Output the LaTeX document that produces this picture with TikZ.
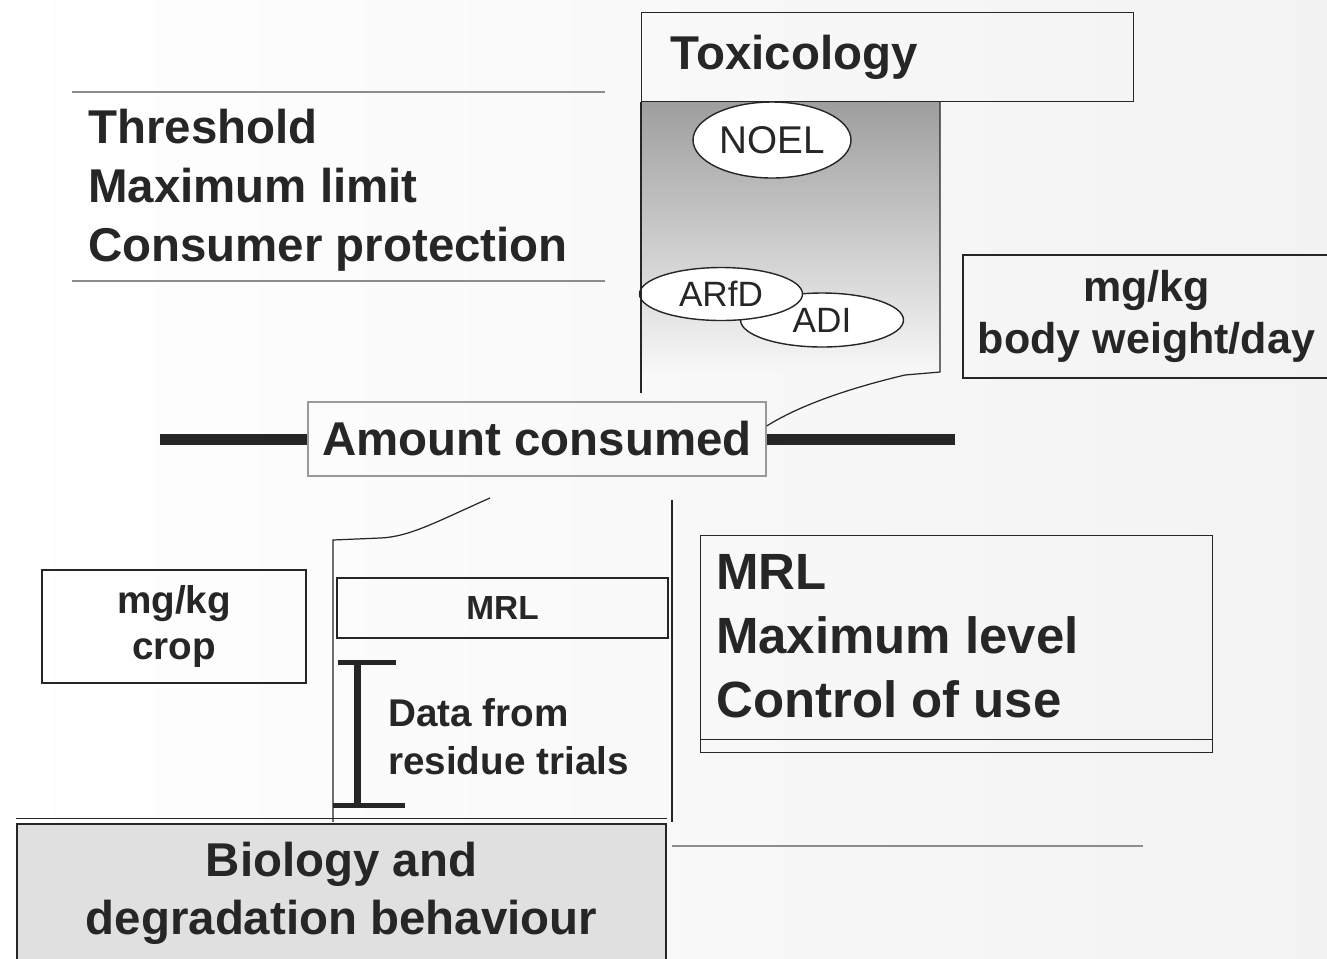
\documentclass[tikz,border=0pt]{standalone}
\usepackage{fontspec}
\setmainfont{Liberation Sans}
\usetikzlibrary{shapes.geometric,calc}
\tikzset{
    box/.style={draw=black!85,line width=0.8pt,rectangle,inner sep=0pt},
    oval/.style={draw=black!85,line width=0.8pt,ellipse,inner sep=0pt,fill=white,text=black!85},
    heading/.style={font=\fontsize{27}{33.5}\selectfont\bfseries,text=black!85},
    unit/.style={font=\fontsize{24.5}{30}\selectfont\bfseries,text=black!85,align=center},
    bar/.style={line width=0.22cm,draw=black!85},
    edge line/.style={draw=black!85,line width=0.7pt},
    rule/.style={draw=black!45,line width=0.6pt}
}

\begin{document}
\begin{tikzpicture}[x=0.02cm,y=-0.02cm]
    \useasboundingbox (0,0) rectangle (1327,958);
    \shade[left color=white,right color=black!5] (0,0) rectangle (1327,958);

    % top left block
    \draw[rule] (72,92) -- (605,92);
    \draw[rule] (72,281) -- (605,281);
    \node[heading,align=left,anchor=west] (limits) at (82,190) {Threshold\\Maximum limit\\Consumer protection};

    % toxicology column
    \shade[top color=black!38,bottom color=black!3] (641,101) rectangle (940,372);
    \node[box,heading,anchor=north west,minimum width=9.84cm,minimum height=1.78cm,text width=8.68cm,inner xsep=0.58cm,align=left] (tox) at (641,12) {\raisebox{-0.1cm}{Toxicology}};
    \node[oval,minimum width=3.26cm,minimum height=1.08cm,font=\fontsize{20}{24}\selectfont] (adi) at (822,320) {ADI};
    \node[oval,minimum width=3.26cm,minimum height=1.06cm,font=\fontsize{20}{24}\selectfont] (arfd) at (721,294) {ARfD};
    \node[oval,minimum width=3.16cm,minimum height=1.52cm,font=\fontsize{22}{26}\selectfont] (noel) at (772,140) {NOEL};
    \node[box,unit,minimum width=7.34cm,minimum height=2.46cm] (bw) at (1146.5,316.5) {\raisebox{-0.08cm}{mg/kg}\\\raisebox{-0.08cm}{body weight/day}};

    % amount consumed
    \node[box,draw=black!40,heading,minimum width=9.16cm,minimum height=1.48cm] (amt) at (537,439) {Amount consumed};
    \coordinate (barL) at (160,439);
    \coordinate (barR) at (955,439);
    \draw[bar] (barL) -- (amt.west);
    \draw[bar] (amt.east) -- (barR);
    \draw[edge line] (tox.south west) -- ++(0,291);
    \draw[edge line] (940,101) -- (940,372) -- (905,375) .. controls (850,388) and (800,405) .. ([yshift=0.26cm]amt.east);

    % residue column
    \draw[edge line] (672,500) -- (672,822);
    \draw[edge line] (490,498) .. controls (440,520) and (410,537) .. (380,538) -- (333,540) -- (333,822);
    \node[box,font=\fontsize{19}{22}\selectfont\bfseries,text=black!85,minimum width=6.62cm,minimum height=1.2cm] (mrl) at (502.5,608) {MRL};
    \node[box,font=\fontsize{22}{26.6}\selectfont\bfseries,text=black!85,align=center,minimum width=5.28cm,minimum height=2.26cm] (crop) at (174,626.5) {mg/kg\\crop};
    \draw[line width=0.14cm,black!85] (357,662) -- (357,805);
    \draw[line width=0.1cm,black!85] (338,662) -- (396,662);
    \draw[line width=0.1cm,black!85] (333,805) -- (405,805);
    \node[font=\fontsize{22}{27.2}\selectfont\bfseries,text=black!85,align=left,anchor=west] (data) at (382,737) {Data from\\residue trials};

    % biology
    \node[box,heading,fill=black!12,align=center,minimum width=12.98cm,minimum height=2.76cm,font=\fontsize{27}{32.9}\selectfont\bfseries] (bio) at (341.5,893) {Biology and\\degradation behaviour};
    \draw[edge line] ([yshift=0.1cm]bio.north west) -- ([yshift=0.1cm]bio.north east);
    \draw[rule] (672,846) -- (1143,846);

    % MRL box
    \node[box,anchor=north west,minimum width=10.24cm,minimum height=4.34cm] (mrlbig) at (700,535) {};
    \draw[edge line] ([yshift=0.28cm]mrlbig.south west) -- ([yshift=0.28cm]mrlbig.south east);
    \node[font=\fontsize{29}{36.3}\selectfont\bfseries,text=black!85,align=left,anchor=west] (mrltext) at (710,636) {MRL\\Maximum level\\Control of use};
\end{tikzpicture}
\end{document}
